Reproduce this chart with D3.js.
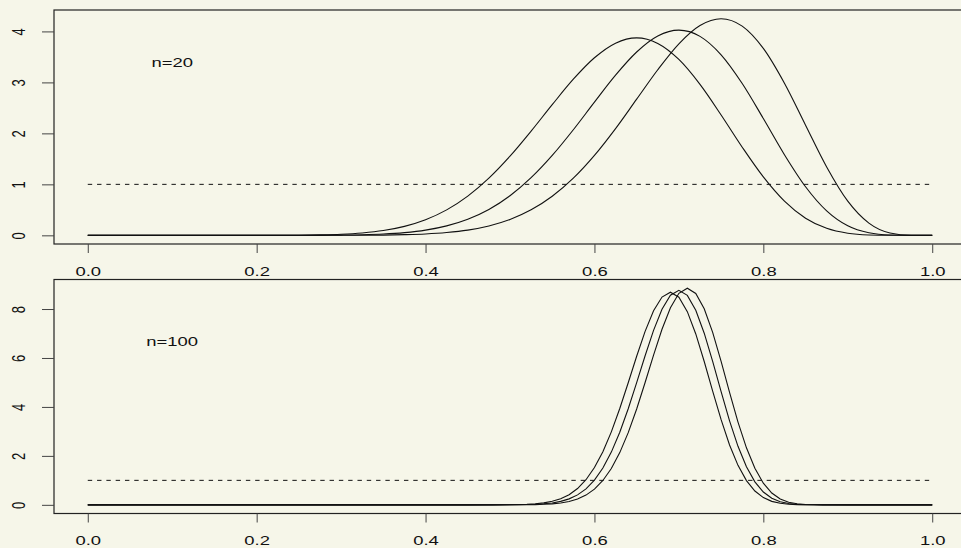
<!DOCTYPE html>
<html>
<head>
<meta charset="utf-8">
<script src="https://cdn.jsdelivr.net/npm/d3@7"></script>
<style>
    body { margin: 0; background: #f6f6e9; }
    svg { display: block; }
    text { font-family: "Liberation Sans", Arial, sans-serif; font-size: 13px; fill: #111; }
</style>
</head>
<body>
<script>
// x ticks shared by both panels
var xTicks = [0, 0.2, 0.4, 0.6, 0.8, 1.0];
var xTickLabels = ["0.0", "0.2", "0.4", "0.6", "0.8", "1.0"];

// top panel (n=20)
var topTicks = [0, 1, 2, 3, 4];
var topX = [0, 0.05, 0.1, 0.15, 0.2, 0.25, 0.275, 0.3, 0.325, 0.35, 0.375, 0.4, 0.425, 0.45, 0.475, 0.5,
    0.525, 0.55, 0.575, 0.6, 0.625, 0.65, 0.675, 0.7, 0.725, 0.75, 0.775, 0.8, 0.825, 0.85, 0.875, 0.9,
    0.925, 0.95, 0.975, 1.0];
var top13 = [0, 0, 0, 0, 0, 0.003, 0.009, 0.021, 0.047, 0.094, 0.176, 0.306, 0.499, 0.769, 1.121, 1.552,
    2.044, 2.563, 3.062, 3.483, 3.770, 3.873, 3.765, 3.450, 2.961, 2.361, 1.729, 1.146, 0.671, 0.336, 0.137, 0.041,
    0.008, 0.001, 0, 0];
var top14 = [0, 0, 0, 0, 0, 0.001, 0.002, 0.005, 0.011, 0.025, 0.053, 0.102, 0.185, 0.315, 0.507, 0.776,
    1.130, 1.567, 2.071, 2.613, 3.142, 3.596, 3.910, 4.025, 3.903, 3.541, 2.978, 2.291, 1.582, 0.953, 0.479, 0.186,
    0.049, 0.006, 0, 0];
var top15 = [0, 0, 0, 0, 0, 0, 0, 0.001, 0.002, 0.005, 0.013, 0.027, 0.055, 0.103, 0.184, 0.311,
    0.500, 0.766, 1.121, 1.568, 2.094, 2.671, 3.248, 3.757, 4.116, 4.249, 4.103, 3.666, 2.983, 2.160, 1.341, 0.670,
    0.240, 0.047, 0.002, 0];

// bottom panel (n=100)
var botTicks = [0, 2, 4, 6, 8];
var botX = [0, 0.1, 0.2, 0.3, 0.4, 0.45,
    0.48, 0.49, 0.5, 0.51, 0.52, 0.53, 0.54, 0.55, 0.56, 0.57,
    0.58, 0.59, 0.6, 0.61, 0.62, 0.63, 0.64, 0.65, 0.66, 0.67,
    0.68, 0.69, 0.7, 0.71, 0.72, 0.73, 0.74, 0.75, 0.76, 0.77,
    0.78, 0.79, 0.8, 0.81, 0.82, 0.83, 0.84, 0.85, 0.86, 0.87,
    0.9, 0.95, 1.0];
var bot69 = [0, 0, 0, 0, 0, 0,
    0.001, 0.002, 0.005, 0.011, 0.022, 0.043, 0.081, 0.145, 0.250, 0.416,
    0.666, 1.026, 1.522, 2.172, 2.981, 3.934, 4.987, 6.070, 7.087, 7.927,
    8.488, 8.686, 8.483, 7.893, 6.981, 5.856, 4.647, 3.479, 2.447, 1.612,
    0.990, 0.564, 0.296, 0.142, 0.062, 0.024, 0.008, 0.003, 0.001, 0,
    0, 0, 0];
var bot70 = [0, 0, 0, 0, 0, 0,
    0, 0.001, 0.002, 0.005, 0.011, 0.022, 0.042, 0.078, 0.141, 0.244,
    0.407, 0.654, 1.011, 1.504, 2.154, 2.966, 3.926, 4.992, 6.092, 7.128,
    7.988, 8.562, 8.766, 8.557, 7.949, 7.012, 5.858, 4.621, 3.432, 2.390,
    1.555, 0.939, 0.524, 0.268, 0.125, 0.053, 0.020, 0.007, 0.002, 0,
    0, 0, 0];
var bot71 = [0, 0, 0, 0, 0, 0,
    0, 0, 0.001, 0.002, 0.005, 0.010, 0.021, 0.040, 0.076, 0.137,
    0.238, 0.398, 0.641, 0.994, 1.485, 2.134, 2.949, 3.917, 4.997, 6.115,
    7.173, 8.053, 8.643, 8.852, 8.637, 8.010, 7.045, 5.859, 4.592, 3.381,
    2.329, 1.493, 0.886, 0.484, 0.241, 0.109, 0.044, 0.016, 0.005, 0.001,
    0, 0, 0];

// flat prior density and panel labels
var priorLevel = 1;
var panelLabels = ["n=20", "n=100"];

var w = 961, h = 548;
var stretch = 1.42; //text in the picture is drawn wider than tall

var svg = d3.select("body").append("svg")
    .attr("width", w)
    .attr("height", h);

// x scale, R style 4% padding on [0,1]
var x = d3.scaleLinear()
    .domain([-0.04, 1.04])
    .range([54, 966]);

var panels = [
    { top: 10, bottom: 244, ymax: 4.42, ymin: -0.17, ticks: topTicks, xs: topX,
      series: [top13, top14, top15], curve: d3.curveMonotoneX, label: panelLabels[0], labelY: 3.4 },
    { top: 279.5, bottom: 513.5, ymax: 9.206, ymin: -0.354, ticks: botTicks, xs: botX,
      series: [bot69, bot70, bot71], curve: d3.curveLinear, label: panelLabels[1], labelY: 6.67 }
];

panels.forEach(function(p){
    var y = d3.scaleLinear()
        .domain([p.ymin, p.ymax])
        .range([p.bottom, p.top]);

    var g = svg.append("g");

    //plot box (right edge falls outside the window)
    g.append("rect")
        .attr("x", x.range()[0])
        .attr("y", p.top)
        .attr("width", x.range()[1] - x.range()[0])
        .attr("height", p.bottom - p.top)
        .attr("fill", "none")
        .attr("stroke", "#222")
        .attr("stroke-width", 1.2);

    //dashed flat prior
    g.append("line")
        .attr("x1", x(0))
        .attr("x2", x(1))
        .attr("y1", y(priorLevel))
        .attr("y2", y(priorLevel))
        .attr("stroke", "#111")
        .attr("stroke-width", 1)
        .attr("stroke-dasharray", "4.4,4.9");

    //density curves
    var line = d3.line()
        .x(function(d){ return x(d[0]); })
        .y(function(d){ return y(d[1]); })
        .curve(p.curve);

    p.series.forEach(function(s){
        g.append("path")
            .datum(p.xs.map(function(v, i){ return [v, s[i]]; }))
            .attr("d", line)
            .attr("fill", "none")
            .attr("stroke", "#111")
            .attr("stroke-width", 1.1);
    });

    //y axis with rotated labels
    var yAxis = g.append("g")
        .attr("transform", "translate(" + x.range()[0] + ",0)")
        .call(d3.axisLeft(y).tickValues(p.ticks).tickSize(12).tickFormat(d3.format("d")));
    yAxis.select(".domain").remove();
    yAxis.selectAll(".tick line").attr("stroke", "#444");
    yAxis.selectAll(".tick text")
        .attr("x", null)
        .attr("dy", "0.36em")
        .attr("text-anchor", "middle")
        .attr("transform", "translate(-36,0) scale(" + stretch + ",1) rotate(-90)")
        .style("font-size", "13px");

    //x axis
    var xAxis = g.append("g")
        .attr("transform", "translate(0," + p.bottom + ")")
        .call(d3.axisBottom(x).tickValues(xTicks).tickSize(9)
            .tickFormat(function(d, i){ return xTickLabels[i]; }));
    xAxis.select(".domain").remove();
    xAxis.selectAll(".tick line").attr("stroke", "#444");
    xAxis.selectAll(".tick text")
        .attr("y", null)
        .attr("dy", "0.36em")
        .attr("transform", "translate(0,27) scale(" + stretch + ",1)")
        .style("font-size", "13px");

    //panel label
    g.append("text")
        .attr("text-anchor", "middle")
        .attr("dy", "0.36em")
        .attr("transform", "translate(" + x(0.1) + "," + y(p.labelY) + ") scale(" + stretch + ",1)")
        .text(p.label);
});
</script>
</body>
</html>
